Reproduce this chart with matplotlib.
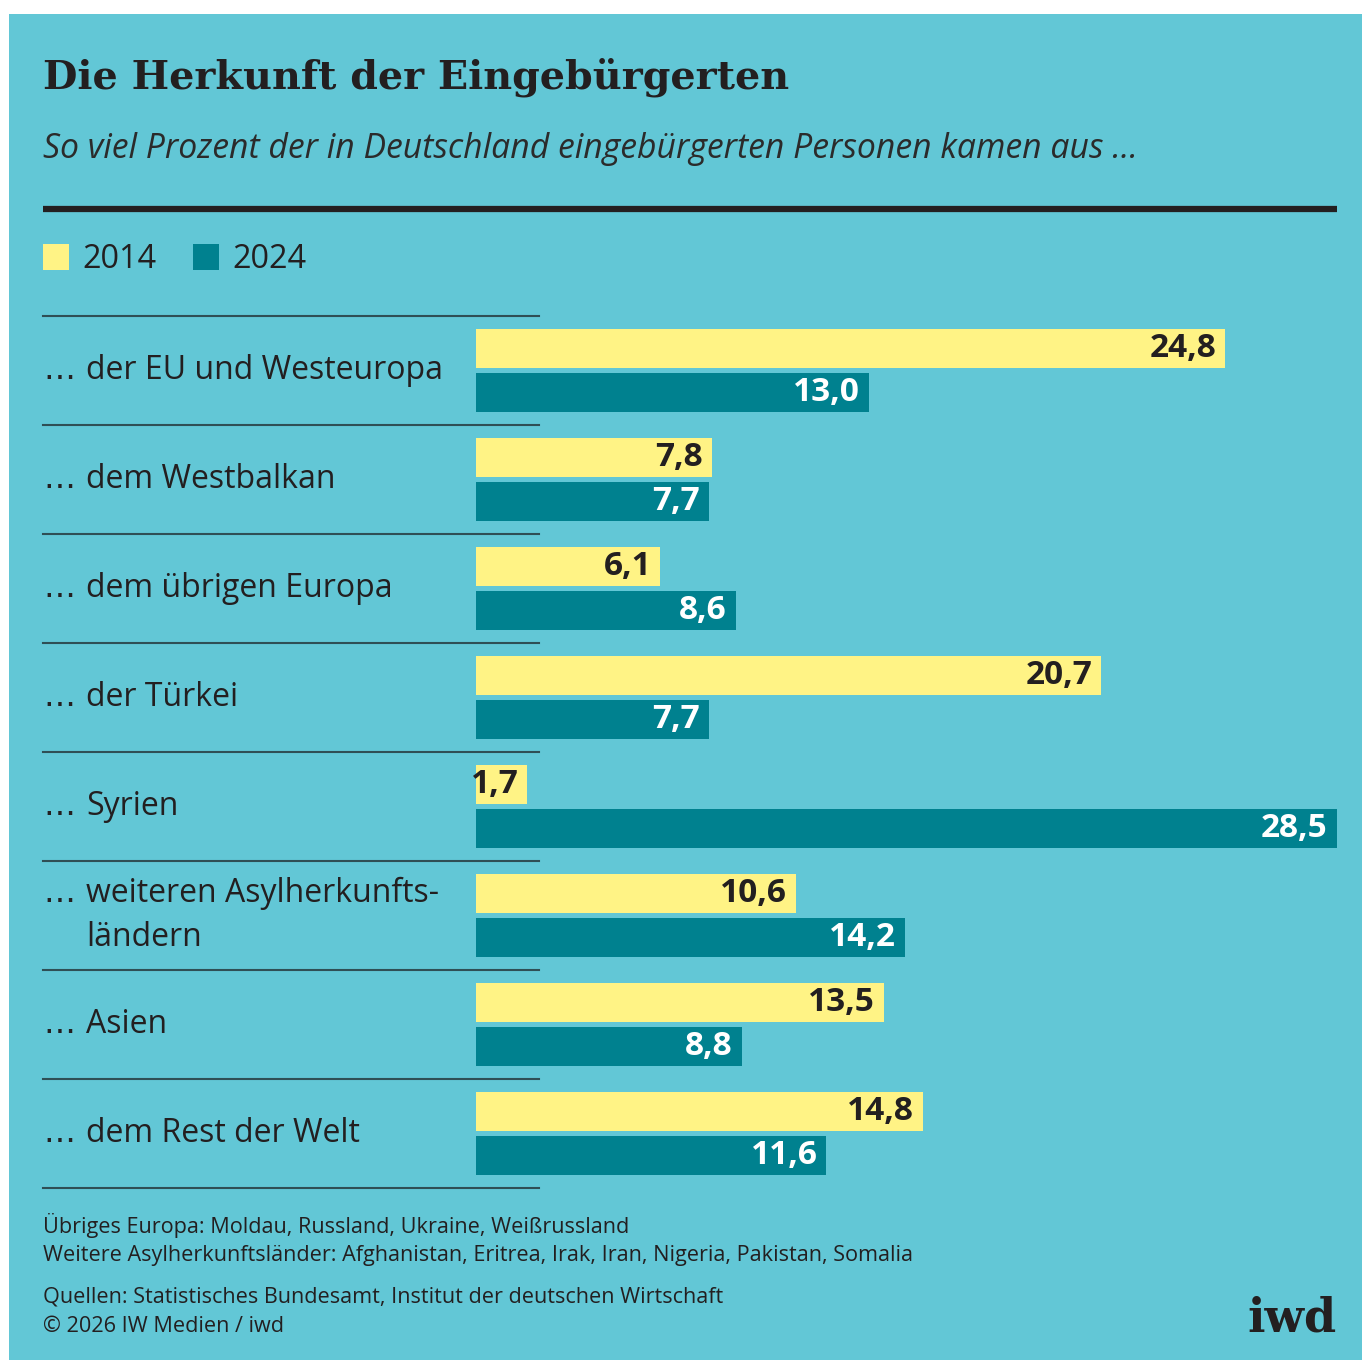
import matplotlib
matplotlib.use("Agg")
import matplotlib.pyplot as plt
from matplotlib.patches import Rectangle
from matplotlib.lines import Line2D

W, H = 1362, 1360
DPI = 100

categories = ["der EU und Westeuropa", "dem Westbalkan", "dem übrigen Europa",
              "der Türkei", "Syrien", "weiteren Asylherkunfts-\nländern",
              "Asien", "dem Rest der Welt"]
values_2014 = [24.8, 7.8, 6.1, 20.7, 1.7, 10.6, 13.5, 14.8]
values_2024 = [13.0, 7.7, 8.6, 7.7, 28.5, 14.2, 8.8, 11.6]
series_labels = ["2014", "2024"]

title = "Die Herkunft der Eingebürgerten"
subtitle = "So viel Prozent der in Deutschland eingebürgerten Personen kamen aus …"
notes = ["Übriges Europa: Moldau, Russland, Ukraine, Weißrussland",
         "Weitere Asylherkunftsländer: Afghanistan, Eritrea, Irak, Iran, Nigeria, Pakistan, Somalia"]
sources = ["Quellen: Statistisches Bundesamt, Institut der deutschen Wirtschaft",
           "© 2026 IW Medien / iwd"]

BG = "#62C7D6"
YELLOW = "#FFF385"
TEAL = "#00818F"
INK = "#231F20"
SANS = ["Open Sans", "DejaVu Sans"]

def fx(x):
    return x / W

def fy(y):
    return 1 - y / H

fig = plt.figure(figsize=(W / DPI, H / DPI), dpi=DPI, facecolor="white")
fig.patches.append(Rectangle((fx(9), 0), 1 - fx(9), fy(14), transform=fig.transFigure,
                             facecolor=BG, edgecolor="none", zorder=-10))

# Title and subtitle
fig.text(fx(43), fy(77), title, family="DejaVu Serif", weight="bold", fontsize=28.6,
         color=INK, va="center", ha="left")
fig.text(fx(43), fy(149), subtitle, family=SANS, style="italic", fontsize=24.3,
         color="#2b2b2b", va="center", ha="left")
fig.lines.append(Line2D([fx(43), fx(1337)], [fy(209), fy(209)], transform=fig.transFigure,
                        color=INK, linewidth=4.5, solid_capstyle="butt"))

# Legend
for (x0, lab, col) in [(43, series_labels[0], YELLOW), (193, series_labels[1], TEAL)]:
    fig.patches.append(Rectangle((fx(x0), fy(270)), 26 / W, 26 / H, transform=fig.transFigure,
                                 facecolor=col, edgecolor="none", zorder=2))
    fig.text(fx(x0 + 39), fy(260), lab, family=SANS, fontsize=23.3, color=INK,
             va="center", ha="left")

# Bar axes
top, bottom = 316, 1188
n = len(categories)
ax = fig.add_axes([fx(476), fy(bottom), fx(1337) - fx(476), (bottom - top) / H])
ax.set_facecolor("none")
ax.set_xlim(0, 28.5)
ax.set_ylim(n, 0)
ax.axis("off")

ys = list(range(n))
bh = 0.36
ax.barh([i + 0.30 for i in ys], values_2014, height=bh, left=0, color=YELLOW, edgecolor="none")
ax.barh([i + 0.70 for i in ys], values_2024, height=bh, left=0, color=TEAL, edgecolor="none")

pad = 0.3
for i in ys:
    v1, v2 = values_2014[i], values_2024[i]
    ax.text(v1 - pad, i + 0.30, f"{v1:.1f}".replace(".", ","), ha="right", va="center",
            family=SANS, weight="bold", fontsize=24, color=INK)
    ax.text(v2 - pad, i + 0.70, f"{v2:.1f}".replace(".", ","), ha="right", va="center",
            family=SANS, weight="bold", fontsize=24, color="white")

# Category labels and separators
pitch = (bottom - top) / n
line_h = 44
for i, cat in enumerate(categories):
    yc = top + pitch * (i + 0.5)
    parts = cat.split("\n")
    m = len(parts)
    for k, part in enumerate(parts):
        yk = yc + (k - (m - 1) / 2) * line_h
        if k == 0:
            fig.text(fx(43), fy(yk), "…", family="DejaVu Sans", fontsize=23, color=INK,
                     va="center", ha="left")
        fig.text(fx(86), fy(yk), part, family=SANS, fontsize=23, color=INK,
                 va="center", ha="left")
for i in range(n + 1):
    yl = top + pitch * i
    fig.lines.append(Line2D([fx(43), fx(539)], [fy(yl), fy(yl)], transform=fig.transFigure,
                            color="#2f4f55", linewidth=1.5))

# Footer
for k, t in enumerate(notes):
    fig.text(fx(43), fy(1226 + 29 * k), t, family=SANS, fontsize=15.6, color=INK,
             va="center", ha="left")
for k, t in enumerate(sources):
    fig.text(fx(43), fy(1297 + 29 * k), t, family=SANS, fontsize=15.6, color=INK,
             va="center", ha="left")
fig.text(fx(1337), fy(1319), "iwd", family="DejaVu Serif", weight="bold", fontsize=33,
         color=INK, va="center", ha="right")

fig.savefig("out.png", dpi=DPI, facecolor="white")
